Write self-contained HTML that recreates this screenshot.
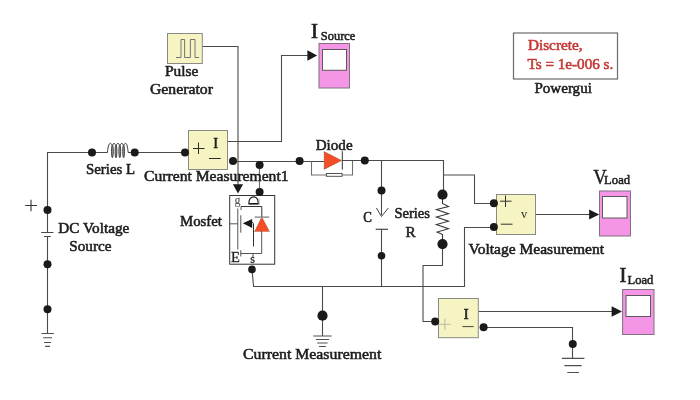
<!DOCTYPE html>
<html><head><meta charset="utf-8">
<style>
html,body{margin:0;padding:0;background:#fff;}
body{width:700px;height:400px;overflow:hidden;}
svg{display:block;will-change:transform;}
text{font-family:"Liberation Serif",serif;fill:#1e1e1e;stroke:#1e1e1e;stroke-width:0.55;font-size:14.5px;}
.red{fill:#c53a36;stroke:#c53a36;}
.w{fill:none;stroke:#4a4a4a;stroke-width:1.1;}
.d{fill:#1a1a1a;}
.blk{fill:#f7f4c3;stroke:#8a8a84;stroke-width:1;}
.sc{fill:#f495e5;stroke:#807080;stroke-width:1;}
.scr{fill:#fff;stroke:#5a5a5a;stroke-width:1;}
</style></head>
<body>
<svg width="700" height="400" viewBox="0 0 700 400">
<!-- ===== wires ===== -->
<g class="w">
  <!-- left loop -->
  <path d="M47.5,210 V152.5 H107"/>
  <path d="M128.6,152.5 H185"/>
  <path d="M47.5,210 V232.5"/>
  <path d="M47.5,236.5 V333.5"/>
  <!-- pulse -->
  <path d="M202,46.5 H238 V186"/>
  <!-- CM1 out -->
  <path d="M228,141.5 H281.5 V55.5 H308"/>
  <!-- CM1 minus to diode -->
  <path d="M233,161.5 H324"/>
  <path d="M259.5,161.5 V192" stroke="#6a6a6a"/>
  <!-- snubber -->
  <path d="M311.5,161.5 V175 H326.4 M342.1,175 H352.5 V160.5" stroke="#707070"/>
  <!-- diode out -->
  <path d="M342,160.5 H443.5 V195"/>
  <path d="M443.5,175 H474.5 V203.5 H494"/>
  <!-- C -->
  <path d="M381.5,160.5 V215"/>
  <path d="M381.5,229.5 V286.5"/>
  <!-- R bottom -->
  <path d="M442.5,244 V265.5 H423 V321.5 H435"/>
  <!-- bottom rail -->
  <path d="M252,269.4 L253.6,286.5 H464.5 V227.5 H494"/>
  <path d="M322.5,286.5 V336"/>
  <!-- VM out -->
  <path d="M535.7,214.5 H590"/>
  <!-- CM out -->
  <path d="M478,311.5 H612"/>
  <path d="M483.6,327.5 H572.5 V358"/>
</g>
<!-- inductor -->
<g fill="none" stroke="#3a3a3a" stroke-width="1">
<path d="M107,152.5 H107.4 C108,147 108.8,143.3 110.4,143.3 C111.5,143.3 111.8,145.5 112.2,145.5 C112.8,145.5 113,143.3 114,143.3 C115,143.3 115.4,145.5 115.8,145.5 C116.4,145.5 116.8,143.3 117.9,143.3 C119,143.3 119.3,145.5 119.7,145.5 C120.3,145.5 120.7,143.3 121.8,143.3 C122.9,143.3 123.1,145.5 123.5,145.5 C124,145.5 124.4,143.3 125.4,143.3 C127,143.3 127.6,147 128.2,152.5 H129"/>
<ellipse cx="112.4" cy="151.3" rx="0.85" ry="6.4" stroke-width="1" fill="#aaa"/>
<ellipse cx="116" cy="151.3" rx="0.85" ry="6.4" stroke-width="1" fill="#aaa"/>
<ellipse cx="119.8" cy="151.3" rx="0.85" ry="6.4" stroke-width="1" fill="#aaa"/>
<ellipse cx="123.6" cy="151.3" rx="0.85" ry="6.4" stroke-width="1" fill="#aaa"/>
</g>

<!-- battery -->
<path d="M41.2,232.5 H53.5 M44,236.5 H50.8" stroke="#4a4a4a" stroke-width="1.2"/>
<path d="M25.2,205.5 H37 M31,199.7 V211.2" stroke="#333" stroke-width="1.1"/>

<!-- grounds -->
<g stroke="#505050" stroke-width="1.2">
  <path d="M41.5,333.5 H53.9 M43.2,337.8 H52 M44,342.5 H50.9 M45.1,346.4 H50" stroke-width="1.1"/>
  <path d="M313.3,336 H331.7 M315.9,339.5 H329 M317.2,343 H327.6 M319,346.5 H325.9" stroke-width="1.1"/>
  <path d="M561.9,358.3 H584.4 M564.4,365.6 H581.6 M567.3,372.5 H579"/>
</g>

<!-- arrows -->
<g fill="#1a1a1a">
  <path d="M232.9,184.3 L243.1,184.3 L238,193.6 Z"/>
  <path d="M307.4,50.3 L317.2,55.5 L307.4,60.7 Z"/>
  <path d="M589.1,209.5 L599.2,214.5 L589.1,219.5 Z"/>
  <path d="M611.6,306.3 L622,311.5 L611.6,316.7 Z"/>
</g>

<!-- ===== blocks ===== -->
<!-- Pulse generator -->
<rect class="blk" x="167.5" y="33.5" width="34.8" height="30"/>
<path d="M176,57.5 H181 V39.5 H184.6 V57.5 H190.4 V39.5 H195 V57.5 H199" fill="none" stroke="#666" stroke-width="0.9"/>

<!-- Current Measurement1 -->
<rect class="blk" x="188.5" y="130.5" width="39" height="39"/>
<path d="M193,148.5 H204.5 M198.5,142.5 V154" stroke="#2a2a2a" stroke-width="1"/>
<path d="M209,158.5 H220.7" stroke="#2a2a2a" stroke-width="1"/>
<text x="213.3" y="147.7" style="font-size:14.5px;stroke-width:0.55">I</text>

<!-- Voltage Measurement -->
<rect class="blk" x="496.5" y="194.5" width="39" height="40"/>
<path d="M500,201.2 H511.5 M505.5,195.5 V207" stroke="#333" stroke-width="1"/>
<path d="M500.8,224.2 H512.5" stroke="#333" stroke-width="1"/>
<text x="521" y="217.5" style="font-size:11.5px;stroke-width:0.05;fill:#333;stroke:#333" textLength="6.2" lengthAdjust="spacingAndGlyphs">v</text>

<!-- Current Measurement -->
<rect class="blk" x="438.5" y="298.5" width="39.8" height="39.2"/>
<path d="M438,324.3 H450.5 M444.9,318.7 V330" stroke="#b8b8a0" stroke-width="1"/>
<path d="M462.4,326.6 H473.7" stroke="#444" stroke-width="1"/>
<text x="463.8" y="319.2" style="font-size:14.5px;stroke-width:0.6">I</text>

<!-- scopes -->
<rect class="sc" x="319" y="43.5" width="30.5" height="44.5"/>
<rect class="scr" x="322.5" y="49.5" width="24" height="20.8"/>
<rect class="sc" x="599.5" y="191" width="31" height="45"/>
<rect class="scr" x="602.5" y="196.5" width="24.5" height="21.5"/>
<rect class="sc" x="622.6" y="289.5" width="31.4" height="45"/>
<rect class="scr" x="626" y="295.5" width="24.5" height="21"/>

<!-- powergui -->
<rect x="513.5" y="33" width="104" height="46" fill="#fff" stroke="#6a6a6a" stroke-width="1.2"/>

<!-- diode -->
<path d="M324.1,151.5 L341.6,160.5 L324.1,169.4 Z" fill="#f24f26" stroke="#6a2a18" stroke-width="0.5" stroke-dasharray="1,0.8"/>
<path d="M342.3,151.2 V169.6" stroke="#333" stroke-width="1"/>
<rect x="326.4" y="173.5" width="15.7" height="2.8" fill="#fff" stroke="#444" stroke-width="0.9"/>

<!-- capacitor -->
<path d="M376.4,208 L381.5,216.5 L388.3,208" fill="none" stroke="#444" stroke-width="1"/>
<path d="M375.7,229.3 H388" stroke="#444" stroke-width="1.2"/>

<!-- resistor -->
<path d="M442.5,197 V203.5 L448.5,206.5 L436.4,209.5 L448.5,213.8 L436.4,217 L448.5,221.3 L436.4,224.5 L448.5,228.8 L437,232 L442.5,234.5 V244" fill="none" stroke="#333" stroke-width="1.05"/>

<!-- mosfet -->
<rect x="229.7" y="195.5" width="45" height="68.7" fill="#fff" stroke="#333" stroke-width="1"/>
<g fill="none" stroke="#555" stroke-width="1">
  <path d="M229.7,223.8 H237.8"/>
  <path d="M237.8,208.5 V249.5"/>
  <path d="M241,206.5 V210 M240.8,215.3 V232.7"/>
  <path d="M241,206.5 H261.8 V217" stroke="#333"/>
  <path d="M254.7,217.1 H269.2" stroke="#6a6a6a" stroke-width="1.1"/>
  <path d="M261.7,231 V253.5 H240.5"/>
  <path d="M240.8,250.2 V256.5"/>
  <path d="M252.2,222 L253.5,223.5 V246.5" stroke="#333"/>
  <path d="M253,253.5 V257"/>
</g>
<path d="M254.6,231.5 L261,218.3 L262.6,218.3 L269.5,231.5 Z" fill="#f24f26" stroke="#6a2a18" stroke-width="0.4" stroke-dasharray="1,0.8"/>
<path d="M242.8,223.2 L252.2,218.9 L252.2,227.9 Z" fill="#1a1a1a"/>
<text x="234.4" y="204.3" style="font-size:12px;fill:#555;stroke:#555;stroke-width:0.1">g</text>
<path d="M248.8,203.5 C248.8,194.6 258.3,194.6 258.3,203.5" fill="none" stroke="#222" stroke-width="1.3"/>
<path d="M248.5,203.8 H258.6" stroke="#1a1a1a" stroke-width="1.6"/>
<path d="M259.1,198 V205" stroke="#999" stroke-width="0.8"/>
<text x="231" y="261.5" style="font-size:14.5px;stroke-width:0.3">E</text>
<text x="250.2" y="262.5" style="font-size:12px;stroke-width:0.3">s</text>

<!-- ===== dots ===== -->
<g class="d">
  <circle cx="92" cy="152.5" r="4"/>
  <circle cx="134.7" cy="152.5" r="4"/>
  <circle cx="185" cy="152.5" r="4"/>
  <circle cx="233" cy="161" r="4"/>
  <circle cx="259.6" cy="165" r="4"/>
  <circle cx="259.6" cy="192" r="4"/>
  <circle cx="299.6" cy="161" r="4"/>
  <circle cx="364.8" cy="160.5" r="4"/>
  <circle cx="381.5" cy="190.4" r="4"/>
  <circle cx="381.5" cy="255.8" r="3.8"/>
  <circle cx="442.5" cy="194.7" r="5.1"/>
  <circle cx="442.5" cy="244.1" r="5.1"/>
  <circle cx="47.5" cy="210" r="4"/>
  <circle cx="47.5" cy="264.3" r="4"/>
  <circle cx="47.5" cy="309.2" r="4"/>
  <circle cx="252" cy="269.4" r="3.8"/>
  <circle cx="322.5" cy="315.7" r="5.1"/>
  <circle cx="493.9" cy="203.2" r="4"/>
  <circle cx="493.9" cy="227.1" r="4"/>
  <circle cx="435.2" cy="321.4" r="4"/>
  <circle cx="483.6" cy="327.3" r="4"/>
  <circle cx="572.75" cy="344" r="4"/>
</g>

<!-- ===== labels ===== -->
<text x="165" y="75.7" textLength="33.3" lengthAdjust="spacingAndGlyphs">Pulse</text>
<text x="150" y="94" textLength="62.9" lengthAdjust="spacingAndGlyphs">Generator</text>
<text x="311" y="37.9" style="font-size:21px;stroke-width:0.7" textLength="7" lengthAdjust="spacingAndGlyphs">I</text>
<text x="320.8" y="39.7" style="font-size:13px" textLength="34.6" lengthAdjust="spacingAndGlyphs">Source</text>
<text class="red" x="527.9" y="50.1" textLength="54.7" lengthAdjust="spacingAndGlyphs">Discrete,</text>
<text class="red" x="527.5" y="69" textLength="85.8" lengthAdjust="spacingAndGlyphs">Ts = 1e-006 s.</text>
<text x="534.4" y="92.8" textLength="57.5" lengthAdjust="spacingAndGlyphs">Powergui</text>
<text x="86" y="173.6" textLength="49" lengthAdjust="spacingAndGlyphs">Series L</text>
<text x="144.1" y="181" textLength="144.5" lengthAdjust="spacingAndGlyphs">Current Measurement1</text>
<text x="315.7" y="149.9" textLength="36.9" lengthAdjust="spacingAndGlyphs">Diode</text>
<text x="58.3" y="232.9" textLength="71" lengthAdjust="spacingAndGlyphs">DC Voltage</text>
<text x="69.3" y="251" textLength="42.1" lengthAdjust="spacingAndGlyphs">Source</text>
<text x="180" y="225.7" textLength="42" lengthAdjust="spacingAndGlyphs">Mosfet</text>
<text x="363.3" y="222" textLength="8.6" lengthAdjust="spacingAndGlyphs">C</text>
<text x="394.4" y="218" textLength="35.6" lengthAdjust="spacingAndGlyphs">Series</text>
<text x="405.6" y="237.1" textLength="10.2" lengthAdjust="spacingAndGlyphs">R</text>
<text x="468.5" y="254" textLength="135.5" lengthAdjust="spacingAndGlyphs">Voltage Measurement</text>
<text x="593.3" y="183.8" style="font-size:20.6px;stroke-width:0.45" textLength="13.5" lengthAdjust="spacingAndGlyphs">V</text>
<text x="604.1" y="183.9" style="font-size:13.3px" textLength="26" lengthAdjust="spacingAndGlyphs">Load</text>
<text x="619.6" y="281.8" style="font-size:20.6px;stroke-width:0.7" textLength="6.9" lengthAdjust="spacingAndGlyphs">I</text>
<text x="627.5" y="283.7" style="font-size:12.8px" textLength="25.8" lengthAdjust="spacingAndGlyphs">Load</text>
<text x="243" y="359.4" textLength="138.3" lengthAdjust="spacingAndGlyphs">Current Measurement</text>
</svg>
</body></html>
